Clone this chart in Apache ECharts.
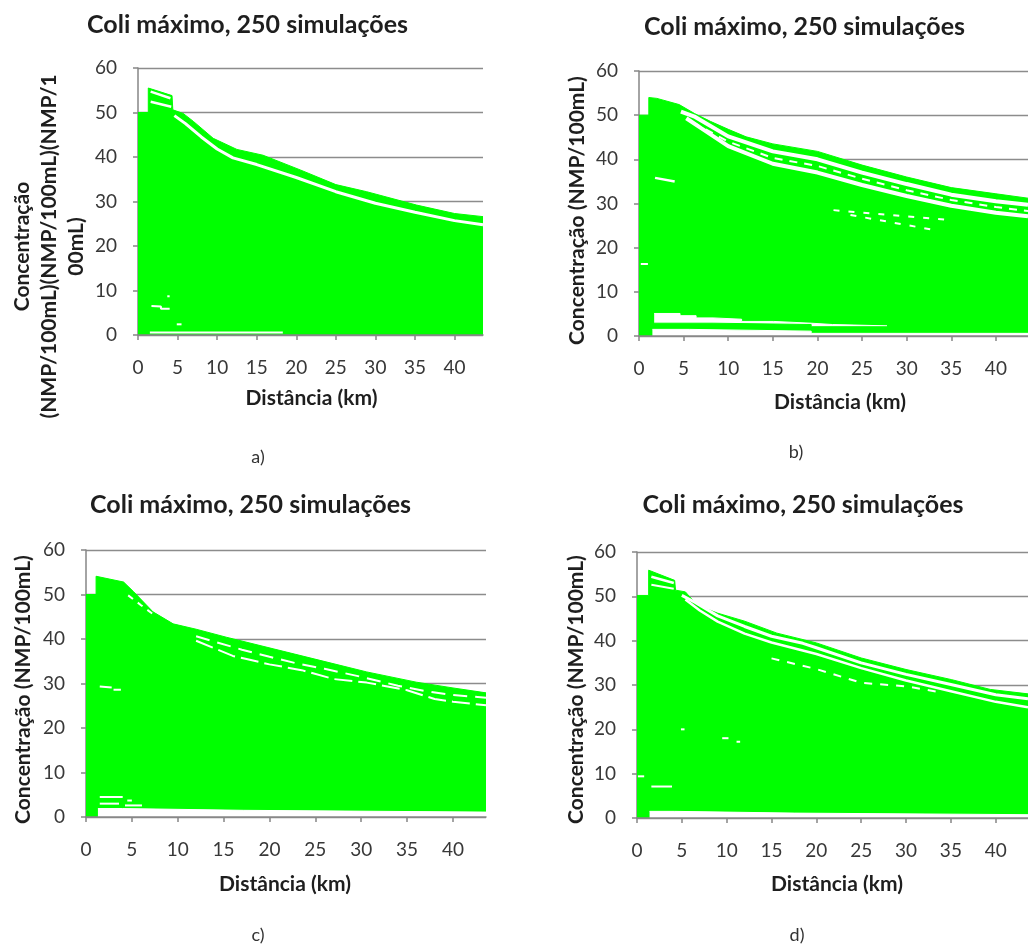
<!DOCTYPE html>
<html><head><meta charset="utf-8">
<script src="https://cdn.jsdelivr.net/npm/echarts@6/dist/echarts.min.js"></script>
<style>html,body{margin:0;padding:0;background:#fff}#c{width:1028px;height:944px}</style>
</head><body><div id="c"></div>
<script>
// ---------- texts ----------
const titleText = 'Coli máximo, 250 simulações';
const xTitle = 'Distância (km)';
const yTitleA = 'Concentração\n(NMP/100mL)(NMP/100mL)(NMP/1\n00mL)';
const yTitle = 'Concentração (NMP/100mL)';
const panelLabels = ['a)', 'b)', 'c)', 'd)'];
const xTicks = [0, 5, 10, 15, 20, 25, 30, 35, 40];
const yTicks = [0, 10, 20, 30, 40, 50, 60];

// ---------- panel a ----------
const aTop = [[0,50],[1.3,50],[1.3,55.5],[4.3,53.8],[4.4,50.6],[5.7,49.8],[7,48],[9.5,44.2],[12.5,41.7],[15.8,40.4],[20.5,37.1],[25,33.8],[28.9,32.2],[35.2,29.2],[40,27.3],[43.6,26.6]];
const aGapMain = [[4.6,49.3],[6,47.5],[8,44.5],[10,41.8],[12,39.8],[15,38.3],[20,35.4],[25,32.2],[30,29.6],[35,27.6],[40,25.7],[43.6,24.8]];
const aGapHump1 = [[1.6,54.7],[4.1,53.2]];
const aGapHump2 = [[1.6,52.4],[4.2,51.3]];
const aGapBottom = [[1.5,0.55],[18.3,0.55]];
const aDash1 = [[1.7,6.5],[2.9,6.4],[2.9,5.9],[4.0,5.9]];
const aDash2 = [[4.9,2.4],[5.5,2.4]];
const aDash3 = [[3.7,8.7],[4.0,8.7]];

// ---------- panel b ----------
const bTop = [[0,50],[1.1,50],[1.1,54],[2,53.8],[4.5,52.4],[6.2,50.4],[8,48.6],[10,46.8],[12,45.1],[15,43.5],[20,41.8],[25,38.7],[30,36.0],[35,33.6],[40,32.2],[43.6,31.2]];
const bGap1 = [[4.7,50.8],[6.3,49.6],[10,45.2],[15,41.8],[20,40.0],[25,37.0],[30,34.4],[35,32.0],[40,30.5],[43.6,29.7]];
const bMid = [[6,48.4],[10,44.0],[15,40.3],[20,38.5],[25,35.6],[30,33.0],[35,30.8],[40,29.2],[43.6,28.3]];
const bGap2 = [[5.3,49.3],[7,47],[10,43.0],[15,39.0],[20,37.0],[25,34.2],[30,31.7],[35,29.5],[40,27.9],[43.6,27.1]];
const bMassDash1 = [[21.8,28.5],[35.2,26.2]];
const bMassDash2 = [[23.7,27.4],[33.1,24.0]];
const bDash1 = [[1.8,35.8],[4.0,35.0]];
const bDash2 = [[0.2,16.3],[1.0,16.3]];
const bWhiteA = [[1.7,5.1],[4.6,4.6],[6.4,4.1],[8.3,3.8],[11.5,3.3],[15.1,2.9],[19.3,2.6],[21.7,2.3],[27.8,2.3]];
const bGreenA = [[1.5,2.9],[8.3,2.6],[19.3,2.1],[27.8,2.1]];
const bWhiteB = [[1.5,1.5],[5.7,1.1],[19.3,0.6],[43.6,0.6]];

// ---------- panel c ----------
const cTop = [[0,50],[1.1,50],[1.1,54.1],[4.1,52.8],[5.2,50.6],[7.3,46.1],[9.5,43.4],[12,42.2],[15.3,40.4],[20.4,37.8],[25.5,35.2],[30.6,32.6],[36,30.3],[40,29.0],[43.6,27.9]];
const cGap0 = [[4.6,49.8],[6,47.6],[7.5,45.3]];
const cGap1 = [[12,40.6],[14,39.4],[17,37.6],[20,36.0],[23,34.5],[26,33.3],[30,31.5],[34,29.5],[37,28.3],[40,27.4],[43.6,26.8]];
const cGap2 = [[12,39.6],[16,36.2],[17.5,35.5],[20,34.3],[23.5,33.0],[27,31.0],[30.6,30.2],[35,28.5],[38,26.5],[40,25.9],[43.6,25.1]];
const cDash1 = [[1.5,29.3],[2.8,29.1]];
const cDash2 = [[3.0,28.6],[3.8,28.6]];
const cDash3 = [[1.5,4.5],[4.0,4.5]];
const cDash4 = [[1.5,3.0],[3.6,3.0]];
const cDash5 = [[4.25,2.6],[6.1,2.6]];
const cDash6 = [[4.5,3.7],[5.0,3.7]];
const cWhiteB = [[1.3,1.9],[4.0,1.5],[17.2,1.1],[43.6,1.1]];

// ---------- panel d ----------
const dTop = [[0,50.2],[1.3,50.2],[1.3,55.9],[4.2,53.6],[4.3,51.4],[5.4,51.0],[6.7,48.0],[9,46.2],[12,44.4],[15.6,41.7],[20,39.5],[25,36.1],[30,33.5],[35.1,31.2],[39.4,29.0],[43.6,28.0]];
const dGapH1 = [[1.6,54.4],[4.1,53.0]];
const dGapH2 = [[1.6,52.6],[4.1,51.7]];
const dGap1 = [[5.0,50.2],[6.5,48.6],[9,45.6],[12,43.2],[15,41.0],[18.5,39.4],[20,38.4],[25,35.0],[30,32.4],[35,30.1],[40,27.8],[43.6,26.9]];
const dGap2 = [[5.4,49.3],[7,46.8],[9,44.3],[12,41.6],[15,39.6],[20,37.0],[25,33.8],[30,31.0],[35,28.6],[40,26.2],[43.6,25.0]];
const dGap3 = [[15,36],[20,33.6],[25,30.5],[30,29.7],[34,28.3]];
const dDash1 = [[0.1,9.4],[0.8,9.4]];
const dDash2 = [[1.6,7.1],[3.9,7.1]];
const dDash3 = [[9.5,18.0],[10.2,18.0]];
const dDash4 = [[11.1,17.2],[11.5,17.2]];
const dDash5 = [[4.9,20],[5.3,20]];
const dWhiteB = [[1.4,1.5],[4.2,1.1],[17.6,0.75],[43.6,0.75]];

// ---------- styling ----------
const GREEN = '#00ff00';
const WHITE = '#ffffff';
const AXIS = '#868686';
const FONT = 'Lato, "Open Sans", sans-serif';

function area(g, data, color, step) {
  return {type:'line', xAxisIndex:g, yAxisIndex:g, data:data, symbol:'none', step: step ? 'end' : false,
    silent:true, animation:false, lineStyle:{color:color, width:1}, areaStyle:{color:color, opacity:1}};
}
function line(g, data, color, width, dash) {
  return {type:'line', xAxisIndex:g, yAxisIndex:g, data:data, symbol:'none', silent:true, animation:false,
    lineStyle:{color:color, width:width, type: dash || 'solid', cap:'butt'}};
}

const grids = [
  {left:138, top:68, width:345, height:267},
  {left:639, top:71, width:401, height:265},
  {left:86, top:550, width:400, height:267},
  {left:637, top:552, width:401, height:266}
];

const xAxes = grids.map((g, i) => ({
  type:'value', gridIndex:i, min:0, max:43.6, interval:5, z:5,
  axisLine:{show:true, onZero:false, lineStyle:{color:AXIS, width:1.5}},
  axisTick:{show:true, length:5, customValues:xTicks, lineStyle:{color:AXIS, width:1.5}},
  axisLabel:{customValues:xTicks, margin:23, color:'#383838', fontSize:19, fontFamily:FONT},
  splitLine:{show:false}
}));
const yAxes = grids.map((g, i) => ({
  type:'value', gridIndex:i, min:0, max:60, interval:10,
  axisLine:{show:true, lineStyle:{color:AXIS, width:1.5}},
  axisTick:{show:true, length:5, lineStyle:{color:AXIS, width:1.5}},
  axisLabel:{margin:21, color:'#383838', fontSize:19, fontFamily:FONT},
  splitLine:{show:true, lineStyle:{color:'#8c8c8c', width:1.3}}
}));

const series = [
  // a
  area(0, aTop, GREEN),
  line(0, aGapMain, WHITE, 3),
  line(0, aGapHump1, WHITE, 2.5),
  line(0, aGapHump2, WHITE, 2.5),
  line(0, aGapBottom, WHITE, 2),
  line(0, aDash1, WHITE, 2),
  line(0, aDash2, WHITE, 2),
  line(0, aDash3, WHITE, 2),
  // b
  area(1, bTop, GREEN),
  line(1, bGap1, WHITE, 4),
  line(1, bMid, WHITE, 2, [8, 7]),
  line(1, bGap2, WHITE, 4),
  line(1, bMassDash1, WHITE, 2, [6, 9]),
  line(1, bMassDash2, WHITE, 2, [6, 9]),
  line(1, bDash1, WHITE, 2.5),
  line(1, bDash2, WHITE, 2),
  area(1, bWhiteA, WHITE, true),
  area(1, bGreenA, GREEN, true),
  area(1, bWhiteB, WHITE, true),
  // c
  area(2, cTop, GREEN),
  line(2, cGap0, WHITE, 2, [6, 6]),
  line(2, cGap1, WHITE, 2, [14, 8]),
  line(2, cGap2, WHITE, 2, [18, 6]),
  line(2, cDash1, WHITE, 2),
  line(2, cDash2, WHITE, 2),
  line(2, cDash3, WHITE, 2),
  line(2, cDash4, WHITE, 2),
  line(2, cDash5, WHITE, 2),
  line(2, cDash6, WHITE, 2),
  area(2, cWhiteB, WHITE, true),
  // d
  area(3, dTop, GREEN),
  line(3, dGapH1, WHITE, 2.5),
  line(3, dGapH2, WHITE, 2),
  line(3, dGap1, WHITE, 3),
  line(3, dGap2, WHITE, 2.5),
  line(3, dGap3, WHITE, 2, [8, 8]),
  line(3, dDash1, WHITE, 2),
  line(3, dDash2, WHITE, 2),
  line(3, dDash3, WHITE, 2),
  line(3, dDash4, WHITE, 2),
  line(3, dDash5, WHITE, 2),
  area(3, dWhiteB, WHITE, true)
];

function txt(x, y, text, size, weight, rot, lh) {
  return {type:'text', x:x, y:y, rotation: rot || 0, z:10, silent:true,
    style:{text:text, fill: weight === 'bold' ? '#1e1e1e' : '#333333', fontSize:size, fontWeight:weight,
      fontFamily:FONT, align:'center', verticalAlign:'middle', lineHeight: lh || undefined}};
}
const titlePos = [[247.5,25],[804.5,27],[250.5,505],[803,505]];
const xTitlePos = [[311.5,398],[840,402],[285,884],[837,884]];
const yTitlePos = [[49,246.5],[577,210.5],[23,689.5],[576,689.5]];
const labelPos = [[258,457],[796,452],[258,935],[797,935]];

const graphic = [];
for (let i = 0; i < 4; i++) {
  graphic.push(txt(titlePos[i][0], titlePos[i][1], titleText, 25, 'bold'));
  graphic.push(txt(xTitlePos[i][0], xTitlePos[i][1], xTitle, 21, 'bold'));
  graphic.push(txt(yTitlePos[i][0], yTitlePos[i][1], i === 0 ? yTitleA : yTitle, 21, 'bold', Math.PI / 2, 27));
  graphic.push(txt(labelPos[i][0], labelPos[i][1], panelLabels[i], 18, 'normal'));
}

const chart = echarts.init(document.getElementById('c'), null, {renderer:'canvas'});
chart.setOption({
  backgroundColor:'#ffffff',
  animation:false,
  grid: grids,
  xAxis: xAxes,
  yAxis: yAxes,
  series: series,
  graphic: graphic
});
</script>
</body></html>
